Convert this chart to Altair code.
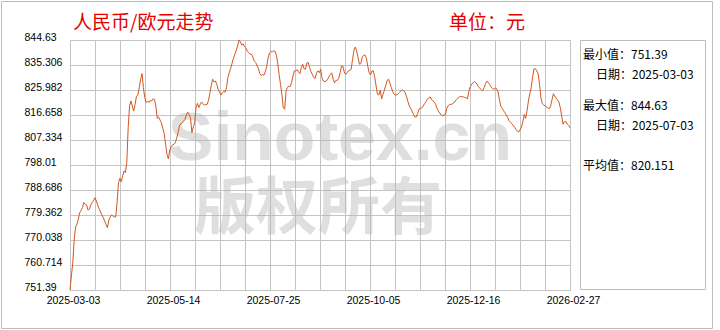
import json
import altair as alt
import pandas as pd

START = "2025-03-03"
END = "2026-02-27"

VALUES = [
    751.39, 756.6, 761.6, 769.7, 774.9, 775.9, 777.7, 780.2, 781.1, 782.1,
    784.0, 783.3, 783.1, 781.2, 781.5, 783.1, 784.0, 784.8, 785.8, 784.6,
    783.1, 781.7, 780.5, 779.4, 778.4, 777.1, 775.9, 774.6, 777.4, 778.6,
    779.4, 779.0, 778.6, 778.6, 784.0, 791.4, 793.0, 791.8, 793.9, 795.8,
    795.2, 798.9, 811.9, 820.0, 821.9, 820.0, 818.1, 820.6, 823.7, 824.1,
    826.9, 830.0, 832.1, 826.9, 823.1, 821.3, 821.9, 821.3, 822.1, 821.9,
    822.7, 822.5, 820.0, 815.4, 815.9, 814.8, 813.7, 811.7, 809.8, 805.7,
    802.0, 800.3, 803.6, 804.8, 805.5, 805.7, 806.3, 808.0, 810.1, 812.6,
    813.4, 813.7, 814.4, 815.0, 816.7, 817.7, 816.7, 815.7, 810.1, 812.2,
    813.8, 819.4, 821.0, 819.4, 820.6, 821.5, 820.9, 820.3, 820.6, 820.6,
    822.1, 824.7, 827.7, 830.0, 829.0, 829.3, 828.1, 826.2, 825.2, 824.1,
    825.0, 825.4, 825.2, 826.9, 830.6, 832.4, 834.1, 835.9, 837.8, 839.3,
    840.8, 842.4, 844.63, 843.9, 842.8, 843.2, 842.1, 841.6, 840.5, 839.9,
    839.3, 839.4, 838.3, 836.8, 836.3, 835.2, 834.1, 832.1, 831.3, 831.8,
    831.5, 832.8, 834.7, 837.8, 839.8, 840.3, 840.2, 840.5, 840.5, 839.0,
    835.8, 831.6, 828.1, 824.4, 819.4, 818.8, 825.6, 827.0, 827.3, 827.3,
    828.7, 831.2, 833.1, 833.1, 833.6, 832.7, 832.1, 834.3, 835.6, 833.9,
    833.7, 836.0, 836.3, 834.3, 832.8, 831.8, 830.6, 830.3, 832.4, 833.1,
    832.4, 833.7, 830.3, 829.3, 829.1, 829.3, 830.0, 831.0, 831.8, 832.4,
    830.0, 828.7, 829.6, 829.6, 830.3, 832.4, 834.9, 834.9, 832.7, 831.8,
    832.4, 833.1, 833.3, 833.7, 837.4, 840.8, 842.0, 840.5, 838.0, 835.6,
    835.8, 838.3, 838.9, 839.0, 837.8, 834.9, 832.4, 831.6, 833.1, 833.1,
    830.8, 827.5, 824.4, 824.1, 825.9, 822.7, 824.4, 825.9, 827.7, 829.6,
    830.0, 828.5, 826.9, 825.4, 824.4, 824.1, 824.2, 824.6, 825.1, 825.7,
    826.0, 825.6, 825.0, 823.4, 821.6, 820.0, 819.1, 818.1, 816.9, 815.9,
    815.9, 817.2, 818.9, 819.1, 819.3, 820.0, 820.9, 821.6, 822.5, 823.1,
    823.4, 822.4, 822.0, 821.5, 820.6, 819.1, 818.1, 817.4, 816.7, 816.3,
    816.7, 816.7, 819.0, 820.1, 820.6, 820.6, 820.8, 821.1, 821.9, 822.3,
    822.9, 823.4, 823.6, 823.5, 823.4, 823.2, 823.0, 822.7, 825.6, 827.2,
    828.2, 828.6, 829.1, 828.7, 828.1, 827.1, 826.6, 826.1, 825.6, 826.9,
    828.3, 829.3, 828.8, 828.0, 827.2, 826.5, 826.2, 826.7, 826.5, 825.4,
    822.5, 820.0, 819.2, 818.3, 817.5, 816.7, 815.7, 814.5, 813.9, 813.4,
    812.8, 812.1, 811.3, 810.6, 810.3, 811.1, 812.2, 814.2, 816.9, 815.4,
    818.4, 821.9, 824.6, 826.9, 830.8, 833.9, 833.9, 833.1, 832.1, 828.1,
    823.1, 820.9, 820.4, 820.0, 819.6, 819.3, 819.0, 820.0, 822.3, 824.6,
    823.7, 822.9, 822.3, 821.5, 819.4, 816.3, 813.2, 814.2, 814.2, 813.3,
    812.8, 811.9,
]

Y_TICKS = [751.39, 760.714, 770.038, 779.362, 788.686, 798.01,
           807.334, 816.658, 825.982, 835.306, 844.63]
X_LABELS = ["2025-03-03", "2025-05-14", "2025-07-25",
            "2025-10-05", "2025-12-16", "2026-02-27"]
TITLE = "人民币/欧元走势"
UNIT = "单位：元"
STATS = ["最小值：751.39", "日期：2025-03-03", "最大值：844.63",
         "日期：2025-07-03", "平均值：820.151"]
WATERMARK = ["Sinotex.cn", "版权所有"]

dates = pd.date_range(START, END, freq="D")
df = pd.DataFrame({"date": dates, "value": VALUES})
df["day"] = (df["date"] - dates[0]).dt.days
span = float(df["day"].max())
n_grid = 20
grid_vals = [span * i / n_grid for i in range(n_grid + 1)]
step = span / (len(X_LABELS) - 1)
label_expr = (
    f"abs(datum.value/{step} - round(datum.value/{step})) < 0.001 ? "
    f"{json.dumps(X_LABELS)}[round(datum.value/{step})] : ''"
)

GRID = "#c4c4c4"
LABEL_FONT = "Liberation Sans"

x_enc = alt.X(
    "day:Q",
    scale=alt.Scale(domain=[0, span], nice=False, zero=False),
    axis=alt.Axis(values=grid_vals, labelExpr=label_expr, grid=True,
                  gridColor=GRID, tickSize=0, domain=False,
                  labelFlush=False, labelOverlap=False, labelPadding=5,
                  labelOffset=3, labelFont=LABEL_FONT, labelFontSize=10.5,
                  labelColor="#000000", title=None),
)
y_enc = alt.Y(
    "value:Q",
    scale=alt.Scale(domain=[Y_TICKS[0], Y_TICKS[-1]], nice=False, zero=False),
    axis=alt.Axis(values=Y_TICKS, format=".6~g", grid=True, gridColor=GRID,
                  tickSize=0, domain=False, labelAlign="left",
                  labelPadding=46, labelBaseline="alphabetic",
                  labelFlush=False, labelOverlap=False,
                  labelFont=LABEL_FONT, labelFontSize=10.5,
                  labelColor="#000000", title=None),
)


def one(text):
    return pd.DataFrame({"t": [text]})


def text_layer(text, x, y, **kw):
    return alt.Chart(one(text)).mark_text(**kw).encode(
        text="t:N", x=alt.value(x), y=alt.value(y))


frame = alt.Chart(one("")).mark_rect(
    fillOpacity=0, stroke="#bdbdbd", strokeWidth=1
).encode(x=alt.value(-68.5), x2=alt.value(642.5),
         y=alt.value(-38.5), y2=alt.value(288.5))

wm1 = text_layer(WATERMARK[0], 270, 120, font="Liberation Sans",
                 fontWeight="bold", fontSize=68, color="#b4b4b4",
                 opacity=0.42, align="center", baseline="alphabetic")
wm2 = text_layer(WATERMARK[1], 248, 189, font="Noto Sans CJK SC",
                 fontWeight="bold", fontSize=62, color="#b4b4b4",
                 opacity=0.42, align="center", baseline="alphabetic")

line = alt.Chart(df).mark_line(color="#d4561f", strokeWidth=1).encode(
    x=x_enc, y=y_enc)

box = alt.Chart(one("")).mark_rect(
    fillOpacity=0, stroke="#bdbdbd", strokeWidth=1
).encode(x=alt.value(510.5), x2=alt.value(635.5),
         y=alt.value(0.5), y2=alt.value(249.5))

title = text_layer(TITLE, 3, -17, font="Noto Sans CJK SC", fontSize=19,
                   color="#e60000", align="left", baseline="middle")
unit = text_layer(UNIT, 379, -17, font="Noto Sans CJK SC", fontSize=19,
                  color="#e60000", align="left", baseline="middle")

stat_style = dict(font="Noto Sans CJK SC", fontSize=12, color="#000000",
                  align="left", baseline="middle")
s1 = text_layer(STATS[0], 513, 15, **stat_style)
s2 = text_layer(STATS[1], 526, 35, **stat_style)
s3 = text_layer(STATS[2], 513, 66, **stat_style)
s4 = text_layer(STATS[3], 526, 86, **stat_style)
s5 = text_layer(STATS[4], 513, 126, **stat_style)

chart = alt.layer(
    frame, wm1, wm2, line, box, title, unit, s1, s2, s3, s4, s5
).properties(
    width=500, height=250,
    autosize=alt.AutoSizeParams(type="none"),
    padding={"left": 70, "top": 40, "right": 150, "bottom": 40},
    background="#ffffff",
).configure_view(stroke=GRID, strokeWidth=1)

chart.save("out.html", embed_options={"renderer": "svg", "actions": False})
